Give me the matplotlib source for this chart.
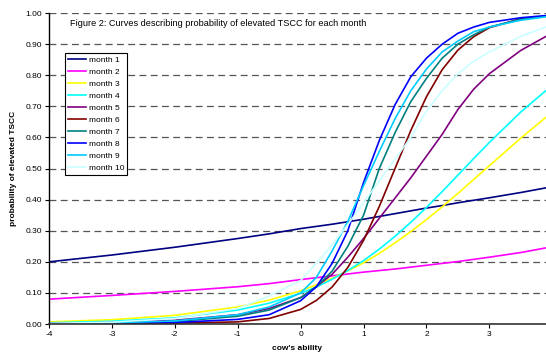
import matplotlib
matplotlib.use("Agg")
import matplotlib.pyplot as plt

plt.rcParams["font.family"] = ["Liberation Sans", "DejaVu Sans"]
plt.rcParams["axes.unicode_minus"] = False

# cow's ability (x) sample points
ability = [-4, -3, -2, -1, -0.5, 0, 0.25, 0.5, 0.75, 1.0, 1.25, 1.5,
           1.75, 2.0, 2.25, 2.5, 2.75, 3.0, 3.5, 3.9]

month1 = [0.200, 0.222, 0.247, 0.275, 0.290, 0.307, 0.314, 0.321, 0.329, 0.337,
          0.346, 0.355, 0.364, 0.373, 0.381, 0.390, 0.398, 0.406, 0.423, 0.438]
month2 = [0.080, 0.092, 0.105, 0.120, 0.130, 0.143, 0.149, 0.155, 0.161, 0.167,
          0.172, 0.177, 0.183, 0.189, 0.195, 0.201, 0.208, 0.215, 0.230, 0.245]
month3 = [0.007, 0.014, 0.028, 0.055, 0.077, 0.107, 0.126, 0.147, 0.171, 0.197,
          0.227, 0.261, 0.297, 0.336, 0.377, 0.420, 0.465, 0.509, 0.598, 0.665]
month4 = [0.004, 0.009, 0.020, 0.045, 0.067, 0.099, 0.119, 0.144, 0.172, 0.204,
          0.241, 0.282, 0.327, 0.375, 0.426, 0.479, 0.532, 0.584, 0.682, 0.751]
month5 = [0.002, 0.005, 0.012, 0.030, 0.050, 0.085, 0.120, 0.160, 0.215, 0.275,
          0.340, 0.405, 0.470, 0.540, 0.610, 0.690, 0.755, 0.805, 0.880, 0.925]
month6 = [0.0005, 0.001, 0.003, 0.007, 0.018, 0.047, 0.076, 0.119, 0.182, 0.269,
          0.378, 0.500, 0.622, 0.731, 0.818, 0.881, 0.924, 0.953, 0.982, 0.990]
month7 = [0.001, 0.003, 0.008, 0.025, 0.045, 0.085, 0.120, 0.170, 0.250, 0.350,
          0.500, 0.615, 0.715, 0.790, 0.855, 0.900, 0.930, 0.955, 0.980, 0.990]
month8 = [0.001, 0.002, 0.005, 0.015, 0.030, 0.075, 0.120, 0.195, 0.300, 0.455,
          0.590, 0.705, 0.795, 0.855, 0.900, 0.935, 0.955, 0.970, 0.985, 0.992]
month9 = [0.002, 0.004, 0.010, 0.030, 0.055, 0.100, 0.150, 0.235, 0.330, 0.445,
          0.555, 0.660, 0.750, 0.820, 0.875, 0.910, 0.940, 0.955, 0.977, 0.988]
month10 = [0.002, 0.006, 0.018, 0.050, 0.090, 0.140, 0.195, 0.255, 0.320, 0.390,
           0.460, 0.530, 0.600, 0.685, 0.750, 0.805, 0.845, 0.875, 0.925, 0.955]

series = [month1, month2, month3, month4, month5,
          month6, month7, month8, month9, month10]
labels = ["month %d" % i for i in range(1, 11)]
colors = ["#000080", "#FF00FF", "#FFFF00", "#00FFFF", "#800080",
          "#800000", "#008080", "#0000FF", "#00CCFF", "#CCFFFF"]

y_ticks = [i / 10 for i in range(11)]
x_ticks = [-4, -3, -2, -1, 0, 1, 2, 3]

fig = plt.figure(figsize=(5.46, 3.53), dpi=100)
ax = fig.add_axes([0.0897, 0.082, 0.9103, 0.881])

for yv in y_ticks:
    ax.axhline(yv, color="#555555", lw=0.9, linestyle=(0, (5.5, 3.5)), zorder=1)

for vals, lab, col in zip(series, labels, colors):
    ax.plot(ability, vals, color=col, lw=1.2, label=lab, zorder=2)

ax.set_xlim(-4, 3.9)
ax.set_ylim(0, 1)
ax.set_yticks(y_ticks)
ax.set_yticklabels(["%.2f" % v for v in y_ticks])
ax.set_xticks(x_ticks)
ax.tick_params(axis="both", labelsize=6, length=3, width=0.8, direction="out", pad=2)

for side in ["top", "right"]:
    ax.spines[side].set_visible(False)
ax.spines["left"].set_linewidth(1.0)
ax.spines["bottom"].set_linewidth(1.2)
ax.spines["bottom"].set_color("#333333")

ax.set_xlabel("cow's ability", fontsize=6, fontweight="bold", labelpad=5)
ax.set_ylabel("probability of elevated TSCC", fontsize=6, fontweight="bold", labelpad=6)

ax.text(0.042, 0.966, "Figure 2: Curves describing probability of elevated TSCC for each month",
        transform=ax.transAxes, fontsize=6.6, va="center", ha="left", zorder=3)

leg = ax.legend(loc="upper left", bbox_to_anchor=(0.032, 0.87), fontsize=6,
                frameon=True, fancybox=False, edgecolor="black", framealpha=1,
                handlelength=2.2, handletextpad=0.3, labelspacing=0.5,
                borderpad=0.35, borderaxespad=0)
leg.get_frame().set_linewidth(0.8)

fig.savefig("out.png", dpi=100)
